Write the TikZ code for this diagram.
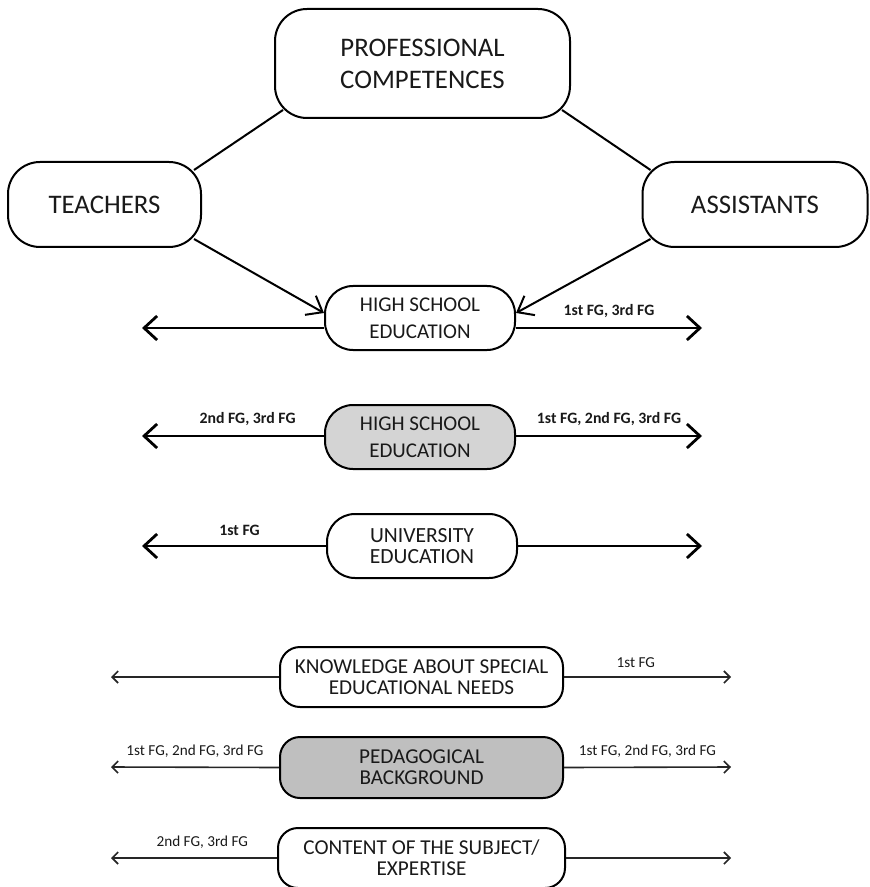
\documentclass[tikz,border=0pt]{standalone}
\usepackage{fontspec}
\setmainfont{Carlito}
\usetikzlibrary{arrows.meta,calc}
\definecolor{lightfill}{gray}{0.83}
\definecolor{darkfill}{gray}{0.75}
\begin{document}
\begin{tikzpicture}[x=0.5pt,y=-0.5pt,
    box/.style={draw, line width=1pt, rounded corners=16pt, align=center, inner sep=0pt, text=black!90},
    bigbox/.style={box, font=\fontsize{13.4}{16}\selectfont},
    midbox/.style={box, rounded corners=14pt, minimum width=95pt, minimum height=32pt, font=\fontsize{10.5}{13.5}\selectfont},
    lowbox/.style={box, rounded corners=10pt, minimum width=141.5pt, minimum height=30pt, font=\fontsize{10.6}{10.5}\selectfont},
    fg/.style={font=\fontsize{7.9}{9}\selectfont\bfseries, inner sep=0pt, above=4.5pt, text=black!90},
    fgthin/.style={fg, font=\fontsize{7.6}{9}\selectfont},
    thickarrow/.style={line width=1.4pt, -{Straight Barb[length=6.5pt,width=12pt]}},
    thinarrow/.style={line width=0.8pt, black!85, -{Straight Barb[length=3pt,width=6pt]}}]
    \useasboundingbox (0,0) rectangle (869,887);

    % Competencias y actores
    \node[bigbox, minimum width=147.5pt, minimum height=54.5pt] (prof) at (422.5,63.5) {PROFESSIONAL\\COMPETENCES};
    \node[bigbox, minimum width=96.5pt, minimum height=42.5pt] (teach) at (104.5,204.5) {TEACHERS};
    \node[bigbox, minimum width=112.5pt, minimum height=42.5pt] (assist) at (755,204.5) {ASSISTANTS};

    \draw[line width=1pt] ($(prof.south west)+(9,-9)$) -- ($(teach.north east)+(-8,9)$);
    \draw[line width=1pt] ($(prof.south east)+(-9,-9)$) -- ($(assist.north west)+(9,9)$);

    % Educacion secundaria (primera fila)
    \node[midbox] (hs1) at (420,318) {HIGH SCHOOL\\EDUCATION};
    \draw[line width=1pt, -{Straight Barb[length=7pt,width=11pt]}] ($(teach.south east)+(-8,-9)$) -- ($(hs1.west)+(0,-5)$);
    \draw[line width=1pt, -{Straight Barb[length=7pt,width=11pt]}] ($(assist.south west)+(9,-9)$) -- ($(hs1.east)+(0,-5)$);
    \coordinate (hs1l) at (142,328);
    \coordinate (hs1r) at (702,328);
    \draw[thickarrow] ($(hs1.west)+(0,10)$) -- (hs1l);
    \draw[thickarrow] ($(hs1.east)+(0,10)$) -- (hs1r) node[fg, midway] (hs1lab) {1st FG, 3rd FG};

    % Educacion secundaria (segunda fila)
    \node[midbox, fill=lightfill] (hs2) at (420,437) {HIGH SCHOOL\\EDUCATION};
    \coordinate (hs2l) at (142,436);
    \coordinate (hs2r) at (702,436);
    \draw[thickarrow] ($(hs2.west)+(0,-1)$) -- (hs2l) node[fg, pos=0.42] (hs2llab) {2nd FG, 3rd FG};
    \draw[thickarrow] ($(hs2.east)+(0,-1)$) -- (hs2r) node[fg, midway] (hs2rlab) {1st FG, 2nd FG, 3rd FG};

    % Educacion universitaria
    \node[midbox, font=\fontsize{10.8}{10.5}\selectfont] (uni) at (422,546) {UNIVERSITY\\EDUCATION};
    \coordinate (unil) at (142,546);
    \coordinate (unir) at (702,546);
    \draw[thickarrow] (uni.west) -- (unil) node[fg, pos=0.47] (unilab) {1st FG};
    \draw[thickarrow] (uni.east) -- (unir);

    % Conocimientos
    \node[lowbox] (know) at (421.5,677) {KNOWLEDGE ABOUT SPECIAL\\EDUCATIONAL NEEDS};
    \coordinate (knowl) at (111,677);
    \coordinate (knowr) at (731,677);
    \draw[thinarrow] (know.west) -- (knowl);
    \draw[thinarrow] (know.east) -- (knowr) node[fgthin, pos=0.43] (knowlab) {1st FG};

    \node[lowbox, fill=darkfill, minimum height=30.5pt] (ped) at (421.5,767.5) {PEDAGOGICAL\\BACKGROUND};
    \coordinate (pedl) at (111,767);
    \coordinate (pedr) at (731,767);
    \draw[thinarrow] (ped.west) -- (pedl) node[fgthin, midway] (pedllab) {1st FG, 2nd FG, 3rd FG};
    \draw[thinarrow] (ped.east) -- (pedr) node[fgthin, midway] (pedrlab) {1st FG, 2nd FG, 3rd FG};

    \node[lowbox, minimum width=143.5pt] (cont) at (421.5,858) {CONTENT OF THE SUBJECT/\\EXPERTISE};
    \coordinate (contl) at (111,858);
    \coordinate (contr) at (731,858);
    \draw[thinarrow] (cont.west) -- (contl) node[fgthin, pos=0.45] (contlab) {2nd FG, 3rd FG};
    \draw[thinarrow] (cont.east) -- (contr);
\end{tikzpicture}
\end{document}
